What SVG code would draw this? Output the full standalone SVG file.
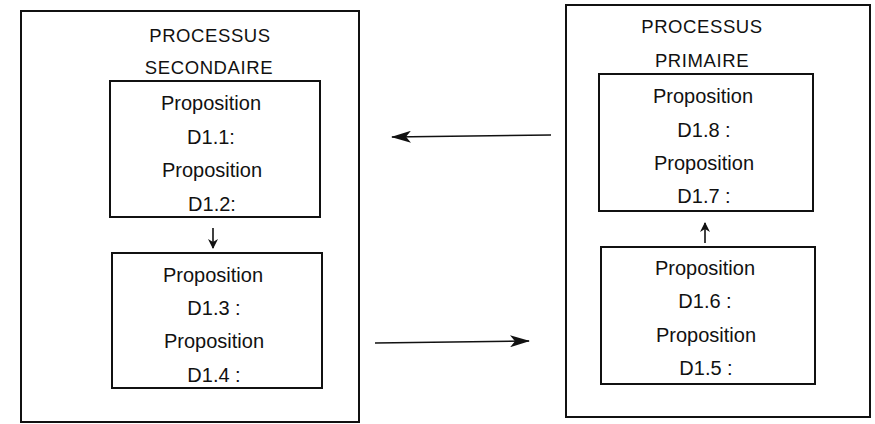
<svg xmlns="http://www.w3.org/2000/svg" width="875" height="424" viewBox="0 0 875 424">
<defs>
<style>
.box{fill:none;stroke:#111;stroke-width:2}
.t{font-family:"Liberation Sans",Arial,sans-serif;font-size:20px;fill:#111;text-anchor:middle}
.h{font-family:"Liberation Sans",Arial,sans-serif;font-size:18.5px;fill:#111;text-anchor:middle;letter-spacing:0.6px}
.c{stroke:#111;stroke-width:1.6;fill:none}
</style>
<marker id="ah" viewBox="0 0 10 10" refX="9" refY="5" markerWidth="10" markerHeight="10" markerUnits="userSpaceOnUse" orient="auto">
<path d="M0,0 L10,5 L0,10 L3,5 Z" fill="#111"/>
</marker>
<marker id="ahL" viewBox="0 0 20 12" refX="19" refY="6" markerWidth="20" markerHeight="12" markerUnits="userSpaceOnUse" orient="auto">
<path d="M0,0 L20,6 L0,12 L5,6 Z" fill="#111"/>
</marker>
</defs>
<rect width="875" height="424" fill="#fff"/>
<g id="secondaire">
<rect class="box" x="21" y="11" width="338" height="411"/>
<text class="h" x="210" y="42">PROCESSUS</text>
<text class="h" x="209" y="74">SECONDAIRE</text>
</g>
<g id="d1-1-2">
<rect class="box" x="110" y="81" width="210" height="136"/>
<text class="t" x="211" y="110">Proposition</text>
<text class="t" x="211" y="144">D1.1:</text>
<text class="t" x="212" y="177">Proposition</text>
<text class="t" x="212" y="211">D1.2:</text>
</g>
<g id="d1-3-4">
<rect class="box" x="112" y="253" width="210" height="135"/>
<text class="t" x="213" y="282">Proposition</text>
<text class="t" x="214" y="315">D1.3 :</text>
<text class="t" x="214" y="348">Proposition</text>
<text class="t" x="214" y="382">D1.4 :</text>
</g>
<g id="primaire">
<rect class="box" x="566" y="5" width="304" height="412"/>
<text class="h" x="702" y="33">PROCESSUS</text>
<text class="h" x="702" y="67">PRIMAIRE</text>
</g>
<g id="d1-8-7">
<rect class="box" x="599" y="74" width="214" height="137"/>
<text class="t" x="703" y="103">Proposition</text>
<text class="t" x="704" y="137">D1.8 :</text>
<text class="t" x="704" y="170">Proposition</text>
<text class="t" x="704" y="203">D1.7 :</text>
</g>
<g id="d1-6-5">
<rect class="box" x="601" y="247" width="214" height="137"/>
<text class="t" x="705" y="275">Proposition</text>
<text class="t" x="705" y="308">D1.6 :</text>
<text class="t" x="706" y="342">Proposition</text>
<text class="t" x="706" y="375">D1.5 :</text>
</g>
<g id="connectors">
<line class="c" x1="213" y1="228" x2="213" y2="248" marker-end="url(#ah)"/>
<line class="c" x1="705" y1="243" x2="705" y2="223" marker-end="url(#ah)"/>
<line class="c" x1="551" y1="135" x2="392" y2="137" marker-end="url(#ahL)"/>
<line class="c" x1="375" y1="343" x2="529" y2="341" marker-end="url(#ahL)"/>
</g>
</svg>
